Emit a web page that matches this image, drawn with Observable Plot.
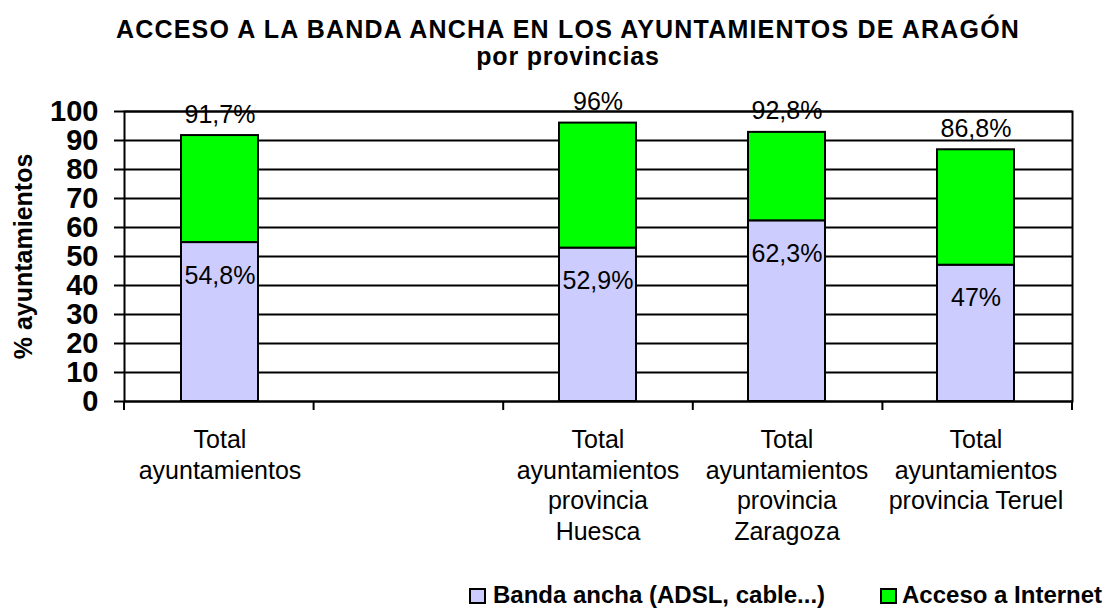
<!DOCTYPE html>
<html><head><meta charset="utf-8">
<script src="https://cdn.jsdelivr.net/npm/d3@7"></script>
<script src="https://cdn.jsdelivr.net/npm/@observablehq/plot@0.6"></script>
<style>
body{margin:0;background:#fff;font-family:"Liberation Sans",Arial,sans-serif;color:#000;}
#wrap{position:relative;width:1106px;height:608px;overflow:hidden;background:#fff;}
#chart{position:absolute;left:0;top:0;}
.ttl{position:absolute;left:0;width:1136px;text-align:center;font-weight:bold;font-size:25px;line-height:25px;white-space:nowrap;}
#title{letter-spacing:1.2px;}
#subtitle{letter-spacing:0.8px;}
.leg{position:absolute;top:583px;font-weight:bold;font-size:24px;line-height:24px;white-space:nowrap;}
.sw{position:absolute;top:588px;width:13px;height:12px;border:2px solid #000;}
</style></head><body>
<div id="wrap">
<div id="chart"></div>
<div class="ttl" id="title" style="top:17px"></div>
<div class="ttl" id="subtitle" style="top:44px"></div>
<div class="sw" id="sw1" style="left:469px"></div>
<div class="leg" id="leg1" style="left:493px"></div>
<div class="sw" id="sw2" style="left:880px"></div>
<div class="leg" id="leg2" style="left:902px"></div>
</div>
<script>
// ---- data ----
const titleText = "ACCESO A LA BANDA ANCHA EN LOS AYUNTAMIENTOS DE ARAGÓN";
const subtitleText = "por provincias";
const yLabel = "% ayuntamientos";
const categories = [
  "Total\nayuntamientos",
  "",
  "Total\nayuntamientos\nprovincia\nHuesca",
  "Total\nayuntamientos\nprovincia\nZaragoza",
  "Total\nayuntamientos\nprovincia Teruel"
];
const barCategories = [categories[0], categories[2], categories[3], categories[4]];
const bandaAncha = [54.8, 52.9, 62.3, 47];
const accesoInternet = [91.7, 96, 92.8, 86.8];
const yTicks = [0, 10, 20, 30, 40, 50, 60, 70, 80, 90, 100];
const seriesNames = ["Banda ancha (ADSL, cable...)", "Acceso a Internet"];
const seriesColors = ["#ccccff", "#00ff00"];

const data = barCategories.map((c, i) => ({cat: c, banda: bandaAncha[i], total: accesoInternet[i]}));
const fmt = v => String(v).replace(".", ",") + "%";

document.getElementById("title").textContent = titleText;
document.getElementById("subtitle").textContent = subtitleText;
document.getElementById("leg1").textContent = seriesNames[0];
document.getElementById("leg2").textContent = seriesNames[1];
document.getElementById("sw1").style.background = seriesColors[0];
document.getElementById("sw2").style.background = seriesColors[1];

// category boundary ticks (Excel style, between categories)
function boundaryTicks(index, scales, values, dimensions) {
  const dom = scales.x.domain();
  const left = dimensions.marginLeft;
  const right = dimensions.width - dimensions.marginRight;
  const bottom = dimensions.height - dimensions.marginBottom;
  const n = dom.length;
  const g = d3.create("svg:g").attr("stroke", "black").attr("stroke-width", 2);
  for (let i = 0; i <= n; i++) {
    const xx = left + i * (right - left) / n;
    g.append("line").attr("x1", xx).attr("x2", xx).attr("y1", bottom).attr("y2", bottom + 9);
  }
  return g.node();
}

const chart = Plot.plot({
  width: 1106,
  height: 560,
  marginTop: 111,
  marginBottom: 159,
  marginLeft: 124,
  marginRight: 34,
  style: {fontFamily: "'Liberation Sans', Arial, sans-serif", background: "white", color: "black", overflow: "visible"},
  x: {domain: categories, paddingInner: 0.59, paddingOuter: 0.295},
  y: {domain: [0, 100]},
  marks: [
    Plot.gridY(yTicks, {stroke: "black", strokeOpacity: 1, strokeWidth: 2}),
    Plot.barY(data, {x: "cat", y1: 0, y2: "banda", fill: seriesColors[0], stroke: "black", strokeWidth: 2}),
    Plot.barY(data, {x: "cat", y1: "banda", y2: "total", fill: seriesColors[1], stroke: "black", strokeWidth: 2}),
    Plot.frame({stroke: "black", strokeWidth: 2}),
    Plot.axisY({ticks: yTicks, tickSize: 10, tickPadding: 16, fontSize: 29, fontWeight: "bold", label: null, strokeWidth: 2}),
    Plot.axisX({tickSize: 0, tickPadding: 25, fontSize: 25, lineHeight: 1.22, label: null}),
    boundaryTicks,
    Plot.text(data, {x: "cat", y: "total", text: d => fmt(d.total), dy: -21, fontSize: 25}),
    Plot.text(data, {x: "cat", y: "banda", text: d => fmt(d.banda), dy: 33, fontSize: 25}),
    Plot.text([yLabel], {frameAnchor: "left", textAnchor: "middle", rotate: -90, dx: -101, fontSize: 25, fontWeight: "bold"})
  ]
});
document.getElementById("chart").appendChild(chart);
</script>
</body></html>
